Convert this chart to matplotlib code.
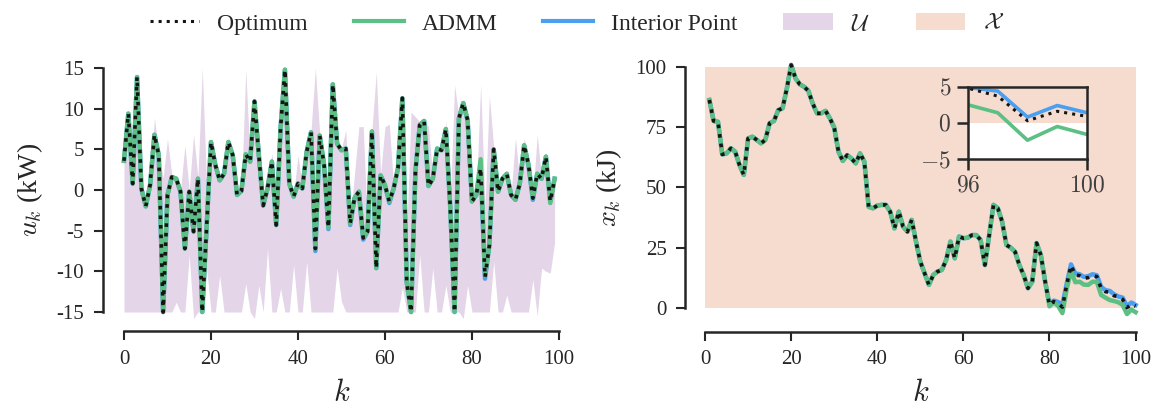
import matplotlib
matplotlib.use("Agg")
import matplotlib.pyplot as plt
from matplotlib.patches import Patch
from matplotlib.lines import Line2D

plt.rcParams['font.family'] = 'serif'
plt.rcParams['font.serif'] = ['Liberation Serif', 'DejaVu Serif']
plt.rcParams['mathtext.fontset'] = 'cm'
plt.rcParams['axes.unicode_minus'] = False

# control input u_k, k = 0..99
k_u = list(range(100))
u_opt = [3.6, 9.4, 0.8, 13.9, 0.2, -2.0, 0.6, 6.8, 4.3, -15.0,
         -0.6, 1.6, 1.4, -0.2, -7.2, -0.2, -5.1, 1.4, -15.0, -4.5,
         5.9, 3.1, 1.2, 2.0, 5.9, 4.3, -0.6, -0.1, 4.4, 3.5,
         10.9, 4.3, -1.9, 0.2, 3.5, -4.3, 7.6, 14.8, 0.8, -0.8,
         0.8, 0.2, 4.7, 7.1, -7.2, 6.7, 3.1, -4.6, 13.0, 5.7,
         4.9, 5.1, -4.1, -1.0, -0.2, -5.9, -5.1, 7.2, -9.6, 1.8,
         0.6, -1.4, 0.2, 2.7, 11.3, -11.3, -15.0, 2.3, 8.0, 8.5,
         0.5, 1.4, 5.1, 4.9, 7.5, -2.0, -15.0, 8.8, 10.7, 8.6,
         -1.4, -0.6, 2.7, -10.7, -6.8, 5.0, -0.2, 1.4, 2.0, -0.6,
         -1.2, 0.8, 5.5, 3.1, -1.0, 2.0, 1.4, 4.1, -1.4, 1.4]
u_admm = [3.6, 9.4, 0.8, 13.9, 0.2, -2.0, 0.6, 6.8, 4.3, -15.0,
          -0.6, 1.6, 1.4, -0.2, -7.2, -0.2, -5.1, 1.4, -15.0, -4.5,
          5.9, 3.1, 1.2, 2.0, 5.9, 4.3, -0.6, -0.1, 4.4, 3.5,
          10.9, 4.3, -1.9, 0.2, 3.5, -4.3, 7.6, 14.8, 0.8, -0.8,
          0.8, 0.2, 4.7, 7.1, -7.2, 6.7, 3.1, -4.6, 13.0, 5.7,
          4.9, 5.1, -4.1, -1.0, -0.2, -5.9, -5.1, 7.2, -9.6, 1.8,
          0.6, -1.4, 0.2, 2.7, 11.3, -11.3, -15.0, 2.3, 8.0, 8.5,
          0.5, 1.4, 5.1, 4.9, 7.5, -2.0, -15.0, 8.8, 10.7, 8.6,
          -1.4, -0.6, 3.8, -10.5, -6.8, 5.0, -0.2, 1.4, 2.0, -0.6,
          -1.2, 0.8, 5.5, 3.1, -1.0, 2.0, 1.4, 4.1, -1.6, 1.4]
u_ip = [3.6, 9.4, 0.8, 13.9, 0.2, -2.0, 0.6, 6.8, 4.3, -15.0,
        -0.6, 1.6, 1.4, -0.2, -7.2, -0.2, -5.1, 1.4, -15.0, -4.5,
        5.9, 3.1, 1.2, 2.0, 5.9, 4.3, -0.6, -0.1, 4.4, 3.5,
        10.9, 4.3, -1.9, 0.2, 3.5, -4.3, 7.6, 14.8, 0.8, -0.8,
        0.8, 0.2, 4.7, 7.1, -7.5, 6.7, 3.1, -4.8, 13.0, 5.7,
        4.9, 5.1, -4.3, -1.0, -0.2, -6.1, -5.1, 7.2, -9.6, 1.8,
        0.6, -1.6, 0.2, 2.7, 11.3, -11.3, -15.0, 2.3, 8.0, 8.5,
        0.5, 1.4, 5.1, 4.9, 7.5, -2.0, -15.0, 8.8, 10.7, 8.6,
        -1.4, -0.6, 2.7, -10.9, -6.8, 5.0, -0.2, 1.4, 2.0, -0.6,
        -1.2, 0.8, 5.5, 3.1, -1.2, 2.0, 1.4, 4.1, -1.4, 1.4]

# admissible input set U
u_max = [4.0, 9.6, 1.0, 14.0, 0.5, -1.8, 1.0, 8.9, 4.5, 1.5,
         6.3, 1.8, 1.5, 0.0, 5.5, 0.0, 6.8, 1.6, 15.0, 0.5,
         6.4, 3.3, 1.4, 2.2, 6.6, 4.5, -0.4, 0.0, 14.8, 3.7,
         11.7, 4.5, -1.7, 0.4, 4.5, 0.0, 7.8, 15.0, 1.0, -0.6,
         4.3, 0.4, 4.9, 7.3, 15.0, 6.9, 3.3, -2.0, 13.2, 5.9,
         5.1, 7.4, -3.9, 2.0, 7.8, 7.8, -4.9, 7.4, 14.5, 2.0,
         7.8, 8.1, 0.4, 2.9, 11.5, -5.0, 9.6, 9.0, 8.4, 8.6,
         7.8, 1.6, 5.3, 5.1, 8.4, -1.8, 12.9, 9.0, 10.9, 8.8,
         -1.2, -0.4, 13.0, -2.0, 11.6, 5.2, 0.0, 1.6, 2.2, -0.4,
         6.4, 1.0, 6.4, 3.3, -0.8, 6.8, 1.6, 4.7, -1.2, 1.4]
u_min = [-15, -15, -15, -15, -15, -15, -15, -15, -15, -15,
         -15, -15, -13.8, -15, -15, -8.0, -15.8, -15, -15, -9.6,
         -15, -15, -10.5, -15, -15, -15, -15, -15, -11.5, -15,
         -15.8, -11.7, -15, -7.2, -15, -15, -12.1, -15, -15, -9.2,
         -15, -15, -8.8, -15, -15, -15, -15, -15, -15, -9.6,
         -13.7, -15, -15, -15, -15, -15, -15, -15, -15, -15,
         -15, -15, -15, -15, -12.0, -15, -15, -15, -8.0, -15,
         -15, -9.6, -15, -15, -11.7, -15, -15, -15, -15.8, -11.7,
         -15, -15, -15, -15, -15, -8.8, -15, -15, -12.9, -15,
         -15, -15, -15, -15, -11.0, -15.5, -9.6, -10.0, -10.2, -6.4]

# state x_k, k = 1..100
k_x = list(range(1, 101))
x_opt = [86.2, 77.5, 77.2, 63.7, 64.1, 66.2, 64.8, 59.3, 55.2, 70.3,
         71.0, 69.7, 68.3, 69.7, 76.6, 77.5, 82.0, 82.8, 91.0, 100.7,
         95.2, 92.7, 91.7, 90.0, 84.8, 80.7, 80.7, 81.7, 78.6, 74.8,
         64.8, 61.0, 63.4, 62.0, 60.0, 64.1, 60.7, 42.0, 41.4, 42.5,
         42.8, 42.8, 40.0, 33.1, 40.0, 33.8, 31.7, 36.6, 27.6, 19.3,
         14.5, 9.7, 13.8, 15.2, 15.9, 20.0, 27.6, 20.7, 29.7, 29.0,
         29.2, 30.3, 30.3, 28.3, 17.9, 30.3, 42.8, 41.4, 35.9, 26.2,
         25.1, 23.4, 17.9, 13.8, 8.3, 11.0, 27.0, 22.0, 11.0, 1.4,
         2.8, 2.0, 0.5, 9.7, 17.7, 13.8, 13.5, 12.4, 12.7, 13.5,
         13.1, 8.3, 6.9, 6.6, 5.2, 4.8, 3.7, 0.3, 1.6, 0.9]
x_admm = [86.2, 77.5, 77.2, 63.7, 64.1, 66.2, 64.8, 59.3, 55.2, 70.3,
          71.0, 69.7, 68.3, 69.7, 76.6, 77.5, 82.0, 82.8, 91.0, 100.7,
          95.2, 92.7, 91.7, 90.0, 84.8, 80.7, 80.7, 81.7, 78.6, 74.8,
          64.8, 61.0, 63.4, 62.0, 60.0, 64.1, 60.7, 42.0, 41.4, 42.5,
          42.8, 42.8, 40.0, 33.1, 40.0, 33.8, 31.7, 36.6, 27.6, 19.3,
          14.5, 9.7, 13.8, 15.2, 15.9, 20.0, 27.6, 20.7, 29.7, 29.0,
          29.2, 30.3, 30.3, 28.3, 17.9, 30.3, 42.8, 41.4, 35.9, 26.2,
          25.1, 23.4, 17.9, 13.8, 8.3, 11.0, 27.0, 22.0, 11.0, 0.8,
          2.5, 1.0, -2.0, 8.0, 15.5, 10.8, 11.0, 9.8, 9.7, 11.0,
          11.0, 5.5, 4.4, 3.4, 3.0, 2.5, 1.4, -2.4, -0.5, -1.6]
x_ip = [86.2, 77.5, 77.2, 63.7, 64.1, 66.2, 64.8, 59.3, 55.2, 70.3,
        71.0, 69.7, 68.3, 69.7, 76.6, 77.5, 82.0, 82.8, 91.0, 100.7,
        95.2, 92.7, 91.7, 90.0, 84.8, 80.7, 80.7, 81.7, 78.6, 74.8,
        64.8, 61.0, 63.4, 62.0, 60.0, 64.1, 60.7, 42.0, 41.4, 42.5,
        42.8, 42.8, 40.0, 33.1, 40.0, 33.8, 31.7, 36.6, 27.6, 19.3,
        14.5, 9.7, 13.8, 15.2, 15.9, 20.0, 27.6, 20.7, 29.7, 29.0,
        29.2, 30.3, 30.3, 28.3, 17.9, 30.3, 42.8, 41.4, 35.9, 26.2,
        25.1, 23.4, 17.9, 13.8, 8.3, 11.0, 27.0, 22.0, 11.0, 1.8,
        3.2, 2.6, 1.5, 10.2, 18.2, 14.4, 14.1, 13.0, 13.3, 14.1,
        13.7, 8.9, 7.5, 7.2, 5.8, 4.9, 4.4, 0.8, 2.4, 1.4]

# admissible state set X
k_X = [0, 100]
x_lo = [0, 0]
x_hi = [100, 100]

c_opt = '#141414'
c_admm = '#5cbf84'
c_ip = '#4a9ff0'
c_U = '#e4d5e9'
c_X = '#f6dbcf'
c_ax = '#262626'

fig = plt.figure(figsize=(11.54, 4.07), dpi=100)
ax1 = fig.add_axes([0.0999, 0.2034, 0.3920, 0.6592])
ax2 = fig.add_axes([0.6035, 0.2128, 0.3880, 0.6531])


def style(ax, ybounds, left_out, bottom_out):
    for s in ['top', 'right']:
        ax.spines[s].set_visible(False)
    for s in ['left', 'bottom']:
        ax.spines[s].set_linewidth(1.8)
        ax.spines[s].set_color(c_ax)
    ax.spines['left'].set_position(('outward', left_out))
    ax.spines['bottom'].set_position(('outward', bottom_out))
    ax.spines['left'].set_bounds(*ybounds)
    ax.spines['bottom'].set_bounds(0, 100)
    ax.tick_params(direction='out', length=6.5, width=1.5, color=c_ax,
                   labelsize=15, labelcolor=c_ax, pad=7)
    ax.set_xticks([0, 20, 40, 60, 80, 100])
    ax.set_xlim(-2, 102)
    ax.set_xlabel('$k$', fontsize=22, color=c_ax, labelpad=7)


# left: inputs
ax1.fill_between(k_u, u_min, u_max, color=c_U, lw=0)
ax1.plot(k_u, u_ip, color=c_ip, lw=3.2)
ax1.plot(k_u, u_admm, color=c_admm, lw=3.2)
ax1.plot(k_u, u_opt, color=c_opt, lw=2.6, ls=':')
ax1.set_ylim(-16.5, 16.5)
ax1.set_yticks([-15, -10, -5, 0, 5, 10, 15])
style(ax1, (-15, 15), 9, 5)
ax1.set_ylabel('$u_k$ (kW)', fontsize=20, color=c_ax, labelpad=8)

# right: states
ax2.fill_between(k_X, x_lo, x_hi, color=c_X, lw=0)
ax2.plot(k_x, x_ip, color=c_ip, lw=3.2)
ax2.plot(k_x, x_admm, color=c_admm, lw=3.2)
ax2.plot(k_x, x_opt, color=c_opt, lw=2.6, ls=':')
ax2.set_ylim(-5, 105)
ax2.set_yticks([0, 25, 50, 75, 100])
style(ax2, (0, 100), 8, 8)
ax2.set_ylabel('$x_k$ (kJ)', fontsize=20, color=c_ax, labelpad=8)

# inset: last steps
axin = fig.add_axes([0.8388, 0.6093, 0.1031, 0.1776])
axin.fill_between(k_X, x_lo, x_hi, color=c_X, lw=0)
axin.plot(k_x, x_ip, color=c_ip, lw=2.6)
axin.plot(k_x, x_admm, color=c_admm, lw=2.6)
axin.plot(k_x, x_opt, color=c_opt, lw=2.2, ls=':')
axin.set_xlim(96, 100)
axin.set_ylim(-5, 5)
axin.set_xticks([96, 100])
axin.set_xticklabels(['$96$', '$100$'])
axin.set_yticks([-5, 0, 5])
axin.set_yticklabels(['$-5$', '$0$', '$5$'])
for s in axin.spines.values():
    s.set_linewidth(1.8)
    s.set_color(c_ax)
axin.tick_params(direction='out', length=8, width=1.8, color=c_ax,
                 labelsize=17, labelcolor='#404040', pad=4)

handles = [Line2D([], [], color=c_opt, lw=2.2, ls=':'),
           Line2D([], [], color=c_admm, lw=3),
           Line2D([], [], color=c_ip, lw=3),
           Patch(facecolor=c_U, edgecolor='none'),
           Patch(facecolor=c_X, edgecolor='none')]
labels = ['Optimum', 'ADMM', 'Interior Point', r'$\mathcal{U}$', r'$\mathcal{X}$']
fig.legend(handles, labels, loc='upper center', bbox_to_anchor=(0.5, 1.02),
           ncol=5, frameon=False, fontsize=17, handlelength=2.1,
           columnspacing=1.95, handletextpad=0.76, labelcolor=c_ax)

fig.savefig('out.png', dpi=100)
